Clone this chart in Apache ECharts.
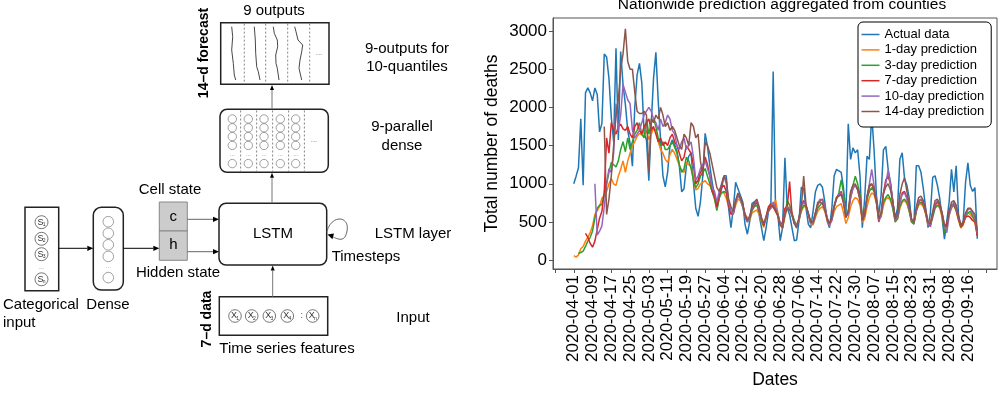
<!DOCTYPE html>
<html><head><meta charset="utf-8">
<style>html,body{margin:0;padding:0;background:#fff}#c{width:1000px;height:394px}</style>
<script src="https://cdn.jsdelivr.net/npm/echarts@6/dist/echarts.min.js"></script>
</head><body><div id="c"></div>
<script>
// ---------------- DATA ----------------
const chartTitle = 'Nationwide prediction aggregated from counties';
const seriesNames = ['Actual data','1-day prediction','3-day prediction','7-day prediction','10-day prediction','14-day prediction'];
const seriesColors = ['#1f77b4','#ff7f0e','#2ca02c','#d62728','#9467bd','#8c564b'];
// x tick labels, one every 8 days starting 2020-04-01 (day 0)
const tickLabels = ['2020-04-01','2020-04-09','2020-04-17','2020-04-25','2020-05-03','2020-05-11','2020-05-19','2020-05-27','2020-06-04','2020-06-12','2020-06-20','2020-06-28','2020-07-06','2020-07-14','2020-07-22','2020-07-30','2020-08-07','2020-08-15','2020-08-23','2020-08-31','2020-09-08','2020-09-16'];
const yTicks = [0,500,1000,1500,2000,2500,3000];
// daily values, day 0 = 2020-04-01
const actual = [
1000,1100,1210,1850,980,2190,2255,2190,2085,2255,
2170,1680,1790,2700,2660,2380,1870,1550,2775,1575,
2730,2300,2040,1700,1530,1230,2000,2425,2575,2320,
1660,1575,1040,1765,2380,2720,2085,1575,1105,960,
1150,1490,1575,1510,1425,1235,895,935,1235,1360,
1405,1020,680,575,765,1105,1660,1490,1235,1020,
850,680,810,935,1105,1105,680,425,680,1020,
935,850,765,470,340,510,745,765,785,595,
425,255,425,640,680,2470,680,595,255,425,
1340,680,595,425,255,265,510,955,935,680,
470,425,640,895,980,1000,955,765,510,425,
680,1105,1190,1170,1150,935,595,1785,1320,1470,
1405,1445,1105,425,810,1360,1320,1895,1445,850,
595,850,1445,1490,1190,1020,765,555,680,1320,
1405,1065,980,810,510,470,1235,1235,1150,935,
680,425,615,1085,1105,980,810,555,275,510,
765,1190,895,1235,595,425,510,1020,1275,980,
900,950,280];
const pred1 = [
60,40,70,150,180,250,300,360,450,600,
650,700,810,850,900,1000,1070,1000,980,1100,
1190,1300,1150,1300,1400,1500,1550,1620,1660,1640,
1620,1700,1580,1650,1720,1700,1550,1450,1400,1320,
1280,1380,1450,1400,1320,1240,1180,1150,1280,1250,
1230,1060,920,940,1000,1020,1040,1000,980,900,
810,680,850,890,880,810,700,640,600,720,
800,780,700,600,560,520,620,640,660,600,
500,430,560,650,680,700,790,620,460,420,
560,700,680,600,500,450,520,640,700,700,
600,480,460,560,640,680,700,640,520,460,
520,640,700,720,740,620,480,560,700,780,
820,800,720,500,540,700,820,880,860,740,
580,560,720,800,820,780,680,520,540,680,
760,780,740,640,500,480,640,720,740,700,
600,460,480,620,700,720,680,560,420,440,
600,680,720,640,520,420,460,580,620,600,
560,500,330];
const pred3 = [
null,null,90,100,120,180,250,300,380,550,
680,720,730,850,1000,1150,1280,1250,1220,1300,
1450,1550,1420,1600,1450,1550,1650,1700,1800,1650,
1600,1850,1650,1800,1850,1750,1600,1500,1550,1450,
1450,1500,1550,1480,1400,1250,1150,1200,1350,1300,
1200,1050,950,1000,1100,1150,1200,1100,1000,900,
800,650,820,880,900,880,720,620,620,760,
850,800,700,580,500,540,650,700,720,640,
520,450,560,680,720,700,650,600,480,440,
600,780,720,620,520,460,520,660,720,700,
620,500,480,580,680,720,760,680,540,480,
540,700,800,880,1050,880,600,620,880,980,
1100,1000,860,580,600,800,900,950,900,780,
560,580,760,820,860,800,680,500,540,700,
780,800,760,640,500,480,640,740,760,720,
620,480,460,560,680,720,700,600,360,460,
620,700,720,660,540,430,480,580,620,640,
580,520,350];
const pred7 = [
null,null,null,null,null,350,300,220,170,250,
400,550,640,900,1600,1400,1800,1700,1650,1750,
1780,1720,1700,1750,1650,1600,1750,1800,1700,1650,
1750,1800,1850,1700,1750,1650,1550,1600,1500,1550,
1500,1600,1650,1550,1500,1400,1300,1350,1500,1450,
1400,1250,1000,1050,1150,1200,1350,1250,1100,900,
850,700,850,950,980,900,720,600,620,780,
860,820,740,600,520,560,680,720,760,660,
540,460,580,700,740,700,640,580,460,500,
680,700,1030,600,480,460,540,720,780,720,
600,480,500,620,720,780,800,700,540,470,
560,720,820,860,900,760,560,640,820,940,
980,940,820,520,600,820,960,1000,920,760,
500,600,880,1050,1100,1000,760,520,560,760,
880,900,820,680,520,500,660,760,800,740,
620,480,440,600,720,760,720,600,440,480,
640,720,740,660,540,440,480,560,580,560,
520,500,320];
const pred10 = [
null,null,null,null,null,null,null,null,null,1000,
330,380,450,700,1000,1200,1150,1400,2050,1700,
1900,2300,2200,2100,2050,1700,1600,1650,1700,1800,
1900,1950,2000,1950,1850,1800,1700,1850,1750,1800,
1900,1850,1700,1650,1500,1450,1550,1600,1450,1500,
1550,1350,1050,1100,1200,1250,1300,1200,1100,950,
900,760,900,1000,1100,1000,760,650,600,760,
850,800,720,560,500,560,680,740,780,680,
540,480,560,640,700,760,700,600,480,460,
620,700,680,580,500,460,520,700,760,720,
600,480,480,600,740,800,780,700,560,460,
520,700,800,860,880,780,580,600,820,940,
980,920,800,540,580,820,1000,1190,980,780,
520,580,860,1000,1180,980,760,520,560,760,
860,880,800,680,520,500,660,780,800,760,
640,480,460,620,740,780,740,620,460,360,
580,700,760,680,560,460,500,600,660,680,
620,560,360];
const pred14 = [
null,null,null,null,null,null,null,null,null,null,
null,null,null,1750,600,800,1100,1500,1900,2100,
2500,2700,3030,2600,2500,2500,2200,1950,1920,1920,
1950,1900,1150,1850,1800,1900,1850,2000,1900,1750,
1800,1700,1750,1700,1600,1500,1450,1650,1600,1500,
1800,1750,1600,1650,1300,1100,1550,1500,1400,1250,
1100,950,900,980,1100,1050,800,700,640,780,
880,820,740,580,520,580,700,760,800,700,
560,480,560,660,700,720,660,580,460,420,
600,680,660,600,480,420,560,700,1100,720,
600,500,500,620,760,760,740,660,540,480,
560,700,820,840,860,740,560,640,900,980,
1000,920,780,520,600,840,980,1000,940,780,
540,620,880,960,1000,920,760,540,600,860,
1000,1080,900,720,540,500,700,820,840,780,
660,500,480,640,780,800,740,620,460,440,
640,760,780,720,580,460,500,620,680,680,
640,600,380];
const allSeries = [actual, pred1, pred3, pred7, pred10, pred14];

// ---------------- CHART ----------------
const FONT = 'Liberation Sans, Arial, sans-serif';
const TICK_STEP = 8;
const labelVals = tickLabels.map((_, i) => i * TICK_STEP);
const tickVals = [-TICK_STEP].concat(labelVals, [labelVals[labelVals.length - 1] + TICK_STEP]);
function toPairs(arr) { const out = []; arr.forEach((v, i) => { if (v != null) out.push([i, v]); }); return out; }

// ---------------- DIAGRAM (graphic elements) ----------------
const G = [];
const BOX = '#222', GRAY = '#777';
function txt(x, y, t, o) {
  o = o || {};
  G.push({type: 'text', x: x, y: y, rotation: o.rot || 0, z: 10,
    style: {text: t, fill: o.color || '#000', fontSize: o.size || 15, fontFamily: FONT,
      fontWeight: o.weight || 'normal', align: o.align || 'center', verticalAlign: 'middle'}});
}
function rect(x, y, w, h, o) {
  o = o || {};
  G.push({type: 'rect', z: 5, shape: {x: x, y: y, width: w, height: h, r: o.r || 0},
    style: {fill: o.fill || '#fff', stroke: o.stroke || BOX, lineWidth: o.lw || 1.5}});
}
function seg(x1, y1, x2, y2, o) {
  o = o || {};
  G.push({type: 'line', z: 6, shape: {x1: x1, y1: y1, x2: x2, y2: y2},
    style: {stroke: o.stroke || GRAY, lineWidth: o.lw || 1, lineDash: o.dash || null}});
}
function circ(cx, cy, r, o) {
  o = o || {};
  G.push({type: 'circle', z: 6, shape: {cx: cx, cy: cy, r: r},
    style: {fill: 'none', stroke: o.stroke || '#888', lineWidth: o.lw || 0.8}});
}
function arrow(x1, y1, x2, y2, o) {
  o = o || {};
  const L = o.L || 6, W = o.W || 2.6;
  const dx = x2 - x1, dy = y2 - y1, len = Math.hypot(dx, dy), ux = dx / len, uy = dy / len;
  const bx = x2 - ux * L, by = y2 - uy * L;
  seg(x1, y1, bx, by, {stroke: o.stroke || GRAY, lw: o.lw || 1});
  G.push({type: 'polygon', z: 7, shape: {points: [[x2, y2], [bx - uy * W, by + ux * W], [bx + uy * W, by - ux * W]]},
    style: {fill: '#000'}});
}
function sym(cx, cy, r, letter, sub) {
  circ(cx, cy, r, {stroke: '#555'});
  txt(cx - 1, cy, letter, {size: 9, color: '#333'});
  txt(cx + 2.6, cy + 2.2, sub, {size: 5, color: '#333'});
}

// output box
txt(274, 11, '9 outputs');
txt(204, 53, '14\u2013d forecast', {rot: Math.PI / 2, weight: 'bold', size: 14});
rect(220.7, 22.7, 108.3, 61.6);
[244.3, 265.7, 287.7, 309.7].forEach(x => seg(x, 23.6, x, 83.4, {stroke: '#666', lw: 0.8, dash: [2, 2]}));
[
  [[231.7,26.7],[232.7,36.7],[231.7,50],[233.3,63.3],[234.3,75],[235.7,80]],
  [[254.3,26.7],[255.3,40],[255.7,53.3],[256.7,66.7],[258.3,71.7],[260,80]],
  [[273.3,26.7],[274.3,33.3],[277.3,40],[277.7,46.7],[275.7,55],[276,63.3],[277.3,68.3],[279,80]],
  [[294.7,26.7],[296,31.7],[298,40],[302.7,45],[301.7,51.7],[300,60],[299,68.3],[301.7,80]]
].forEach(p => G.push({type: 'polyline', z: 7, shape: {points: p}, style: {stroke: '#333', lineWidth: 0.9, fill: null}}));
txt(319, 53, '...', {size: 8, color: '#777'});
arrow(272, 109.3, 272, 85, {L: 5, W: 2});

// 9-parallel dense
rect(220, 109.3, 108.3, 63, {r: 7});
[240.7, 256.7, 272.7, 288.7, 304.3].forEach(x => seg(x, 110.5, x, 171.5, {stroke: '#666', lw: 0.8, dash: [2, 2]}));
[232.3, 248.3, 264, 280.3, 295.7].forEach(cx => {
  [119, 127.8, 136.6, 145.4, 163.6].forEach(cy => circ(cx, cy, 4.2));
  txt(cx, 154.6, '...', {size: 6, color: '#777'});
});
txt(314, 140, '...', {size: 8, color: '#777'});
arrow(272, 203.3, 272, 172.8, {L: 5, W: 2});

// right-hand labels
txt(407, 49, '9-outputs for');
txt(407, 67, '10-quantiles');
txt(402, 127, '9-parallel');
txt(402, 146, 'dense');
txt(413, 234, 'LSTM layer');
txt(413, 318, 'Input');

// categorical input
rect(25, 207.3, 33.7, 83.4);
sym(41.5, 222.2, 6.5, 'S', '1');
sym(41.5, 238.8, 6.5, 'S', '2');
sym(41.5, 254.2, 6.5, 'S', '3');
txt(41.5, 267.5, '...', {size: 6, color: '#555'});
sym(41.5, 279.3, 6.5, 'S', 'n');
arrow(58.7, 248.3, 93.3, 248.3, {stroke: '#000'});
txt(3, 305, 'Categorical', {align: 'left'});
txt(3, 323, 'input', {align: 'left'});

// dense
rect(93.3, 207.3, 30, 82.7, {r: 8});
[221.7, 233.3, 244.8, 256.4, 277.6].forEach(cy => circ(108.3, cy, 5.3));
txt(108.3, 266.5, '...', {size: 6, color: '#777'});
arrow(123.3, 248.3, 159.3, 248.3, {stroke: '#000'});
txt(108, 305, 'Dense');

// cell / hidden state
txt(170, 190, 'Cell state');
rect(159.3, 202, 28, 29, {fill: '#cccccc', stroke: '#888', lw: 1});
rect(159.3, 231, 28, 29.3, {fill: '#cccccc', stroke: '#888', lw: 1});
txt(173.3, 216.5, 'c');
txt(173.3, 245, 'h');
txt(178, 273, 'Hidden state');
arrow(187.3, 219.3, 219, 219.3, {stroke: '#666'});
arrow(187.3, 251.7, 219, 251.7, {stroke: '#666'});

// LSTM
rect(219, 203.3, 107.7, 61.7, {r: 7});
txt(273, 234, 'LSTM');
G.push({type: 'bezierCurve', z: 7, shape: {x1: 327, y1: 231, cpx1: 332, cpy1: 214, cpx2: 350, cpy2: 216, x2: 347, y2: 231},
  style: {stroke: '#666', lineWidth: 1, fill: null}});
G.push({type: 'bezierCurve', z: 7, shape: {x1: 347, y1: 231, cpx1: 345, cpy1: 243, cpx2: 338, cpy2: 239, x2: 332.5, y2: 236.8},
  style: {stroke: '#666', lineWidth: 1, fill: null}});
G.push({type: 'polygon', z: 8, shape: {points: [[327.5, 234.6], [334, 233.4], [332.4, 239.2]]}, style: {fill: '#000'}});
txt(366, 257, 'Timesteps');

// input
arrow(272.7, 296.7, 272.7, 265.5, {L: 5, W: 2});
rect(219.3, 296.7, 108.4, 38.6);
sym(235, 316, 6.3, 'X', '1');
sym(251.7, 316, 6.3, 'X', '2');
sym(269.3, 316, 6.3, 'X', '3');
sym(287.3, 316, 6.3, 'X', '4');
txt(301.7, 315.5, ':', {size: 9, color: '#555'});
sym(312.7, 316, 6.3, 'X', 'n');
txt(207, 319, '7\u2013d data', {rot: Math.PI / 2, weight: 'bold', size: 14});
txt(287, 348.5, 'Time series features');

// chart title
txt(782, 5, chartTitle, {size: 15.5});

const chart = echarts.init(document.getElementById('c'), null, {renderer: 'canvas'});
chart.setOption({
  animation: false,
  textStyle: {fontFamily: FONT},
  grid: {left: 553, right: 3, top: 18, bottom: 118, show: true, borderColor: '#555', borderWidth: 1},
  xAxis: {
    type: 'value', min: -8.85, max: 180.4,
    splitLine: {show: false},
    axisLine: {onZero: false, lineStyle: {color: '#555'}},
    axisTick: {customValues: tickVals, length: 4, lineStyle: {color: '#555'}},
    axisLabel: {customValues: labelVals, rotate: 90, fontSize: 17, color: '#000', margin: 6,
      formatter: v => tickLabels[Math.round(v / TICK_STEP)] || ''},
    name: 'Dates', nameLocation: 'middle', nameGap: 102,
    nameTextStyle: {fontSize: 17.5, color: '#000'}
  },
  yAxis: {
    type: 'value', min: -115, max: 3170,
    splitLine: {show: false},
    axisLine: {show: true, onZero: false, lineStyle: {color: '#555'}},
    axisTick: {show: true, customValues: yTicks, length: 4, lineStyle: {color: '#555'}},
    axisLabel: {customValues: yTicks, fontSize: 17, color: '#000', margin: 6, formatter: v => String(v)},
    name: 'Total number of deaths', nameLocation: 'middle', nameGap: 52,
    nameTextStyle: {fontSize: 17.5, color: '#000'}
  },
  legend: {
    orient: 'vertical', left: 858, top: 22, padding: [6, 7, 9, 3.5],
    itemGap: 2.4, itemWidth: 18, itemHeight: 1.5, icon: 'rect',
    backgroundColor: '#fff', borderColor: '#000', borderWidth: 1, borderRadius: 5,
    textStyle: {fontSize: 13, color: '#000', lineHeight: 13},
    data: seriesNames
  },
  series: allSeries.map((arr, i) => ({
    name: seriesNames[i], type: 'line', data: toPairs(arr),
    showSymbol: false, symbol: 'none', color: seriesColors[i],
    lineStyle: {width: 1.5, color: seriesColors[i]}, z: 2 + i
  })),
  graphic: G
});
</script>
</body></html>
